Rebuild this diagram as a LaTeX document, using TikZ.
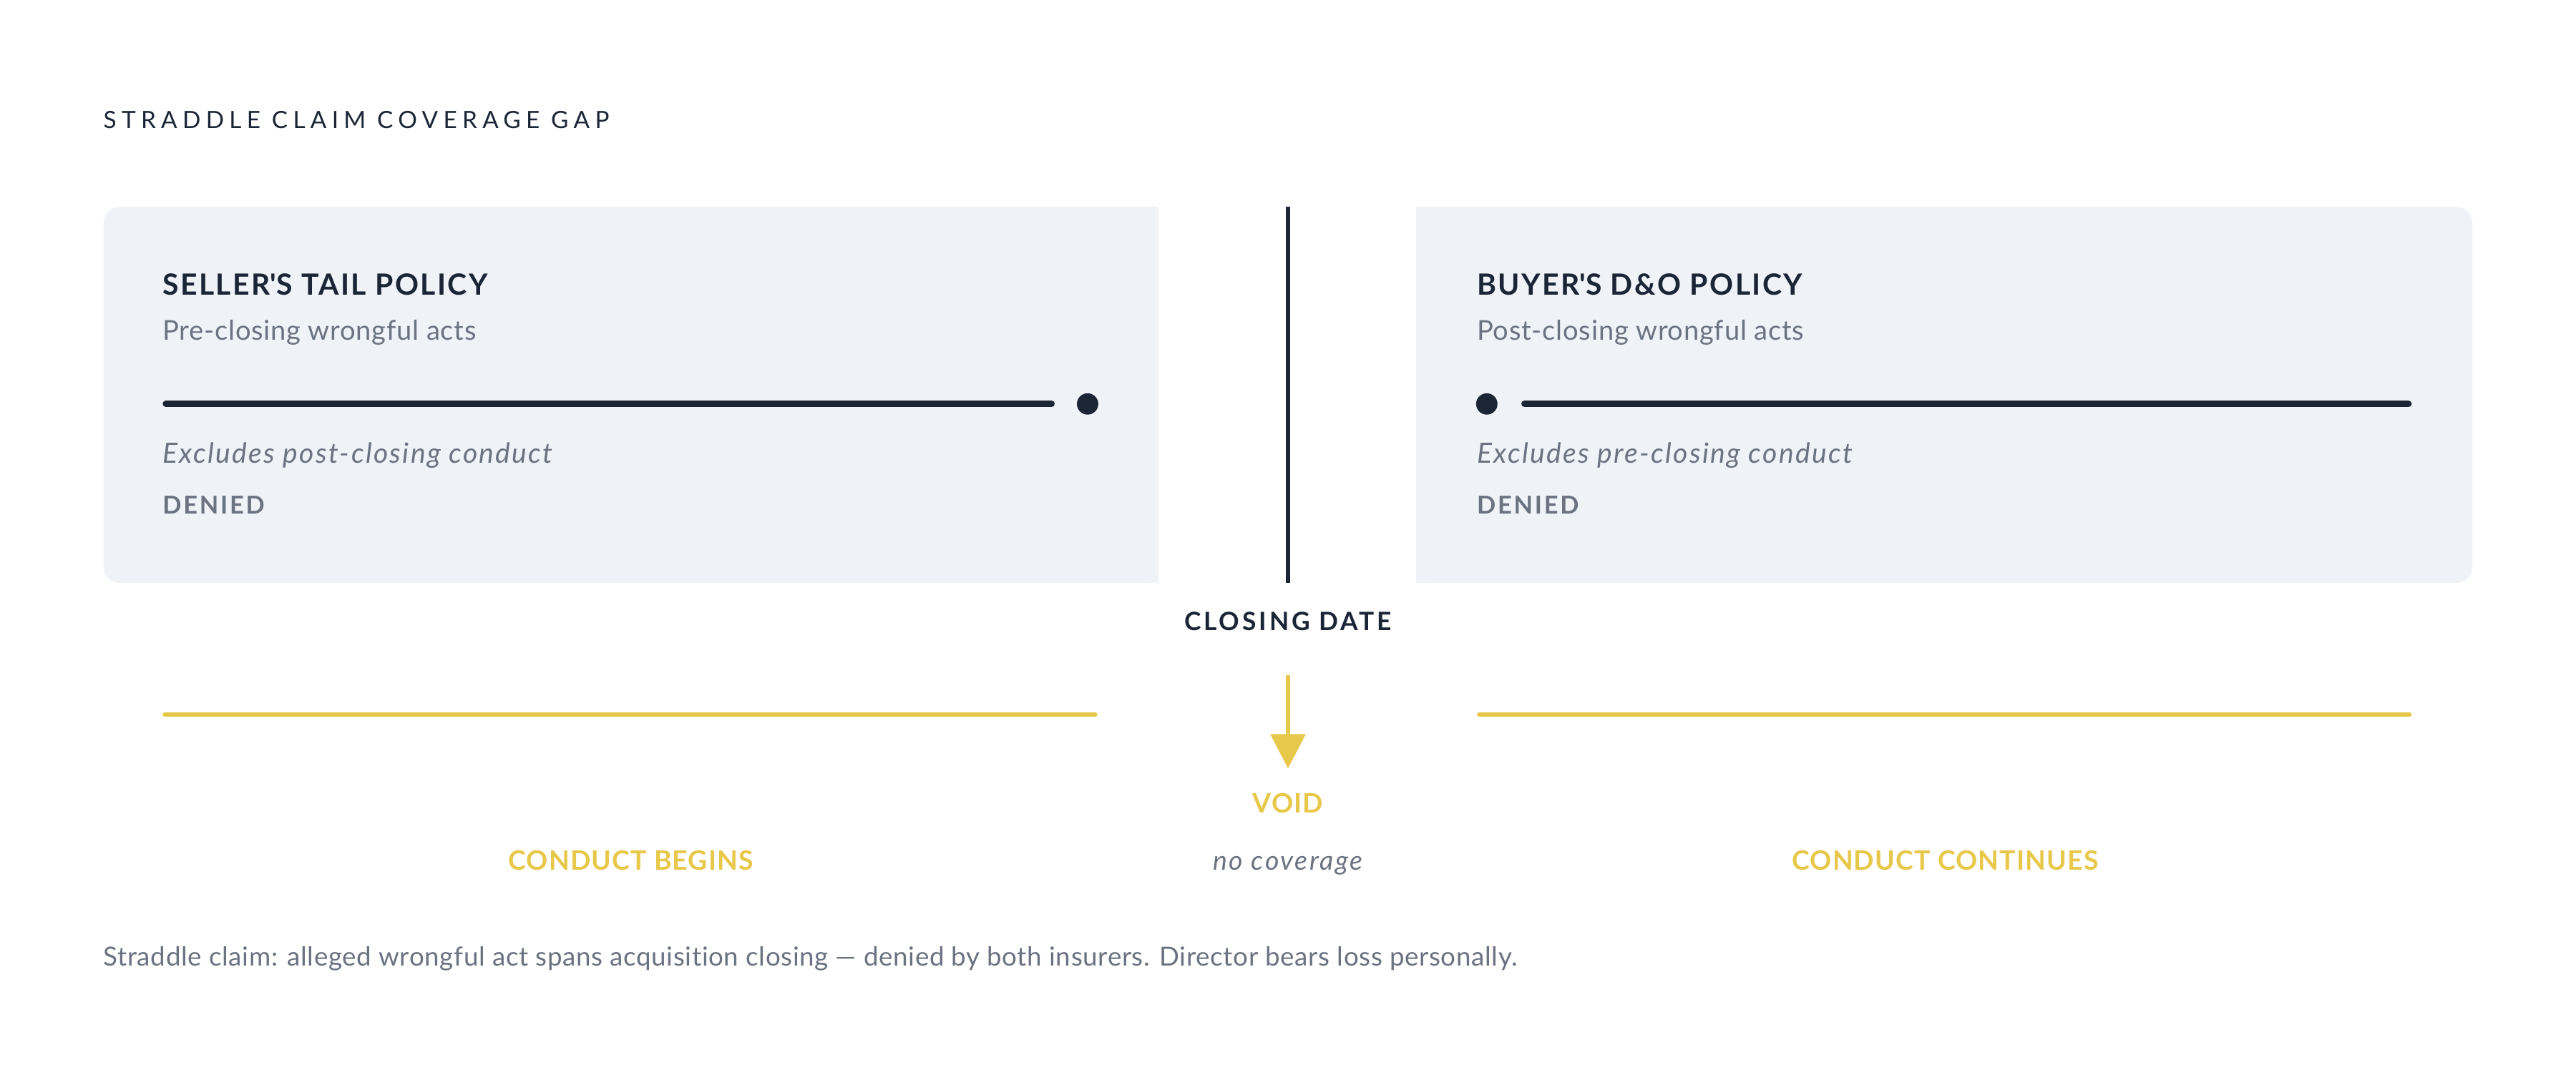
\documentclass[tikz,border=0pt]{standalone}
\usepackage{fontspec}
\setmainfont{Lato}[Ligatures={TeX,NoCommon}]
\usetikzlibrary{arrows.meta}
\definecolor{ink}{HTML}{1B2535}
\definecolor{muted}{HTML}{6B7280}
\definecolor{cardbg}{HTML}{EFF2F7}
\definecolor{gold}{HTML}{E8C84A}
\tikzset{
  x=1pt, y=-1pt,
  txt/.style={inner sep=0pt, outer sep=0pt, anchor=base west},
  ctxt/.style={inner sep=0pt, outer sep=0pt, anchor=base},
  cardtitle/.style={txt, text=ink, font=\fontsize{17.8}{20}\selectfont\bfseries\addfontfeature{LetterSpace=6}},
  cardsub/.style={txt, text=muted, font=\fontsize{16.6}{19}\selectfont\addfontfeature{LetterSpace=2}},
  cardnote/.style={txt, text=muted, font=\fontsize{17}{19}\selectfont\itshape\addfontfeature{LetterSpace=6}},
  denied/.style={txt, text=muted, font=\fontsize{15}{18}\selectfont\bfseries\addfontfeature{LetterSpace=8}},
  goldlbl/.style={ctxt, text=gold, font=\fontsize{16.3}{19}\selectfont\bfseries\addfontfeature{LetterSpace=3}},
  bar/.style={ink, line width=4pt, line cap=round},
  goldbar/.style={gold, line width=2.6pt, line cap=round},
}
\begin{document}
\begin{tikzpicture}
\useasboundingbox[fill=white] (0,0) rectangle (1568,657.3);
% title
\node[txt, text=ink, font=\fontsize{14.5}{17}\selectfont\addfontfeature{LetterSpace=22}] (title) at (63,78) {STRADDLE CLAIM COVERAGE GAP};
% cards
\fill[cardbg, rounded corners=10pt] (63,126) rectangle (705,355);
\fill[cardbg] (650,126) rectangle (705,355);
\fill[cardbg, rounded corners=10pt] (862,126) rectangle (1505,355);
\fill[cardbg] (862,126) rectangle (920,355);
% closing line
\coordinate (ctop) at (784,126);
\coordinate (cbot) at (784,355);
\draw[ink, line width=2.6pt] (ctop) -- (cbot);
% left card
\node[cardtitle] (stitle) at (99,179.5) {SELLER\textquotesingle S TAIL POLICY};
\node[cardsub] (ssub) at (99,207) {Pre-closing wrongful acts};
\coordinate (sl1) at (101,246);
\coordinate (sl2) at (640,246);
\draw[bar] (sl1) -- (sl2);
\node[circle, fill=ink, minimum size=13pt, inner sep=0pt] (sdot) at (662,246) {};
\node[cardnote] (snote) at (99,282) {Excludes post-closing conduct};
\node[denied] (sden) at (99,313) {DENIED};
% right card
\node[cardtitle] (btitle) at (899,179.5) {BUYER\textquotesingle S D\&O POLICY};
\node[cardsub] (bsub) at (899,207) {Post-closing wrongful acts};
\node[circle, fill=ink, minimum size=13pt, inner sep=0pt] (bdot) at (905,246) {};
\coordinate (bl1) at (928,246);
\coordinate (bl2) at (1466,246);
\draw[bar] (bl1) -- (bl2);
\node[cardnote] (bnote) at (899,282) {Excludes pre-closing conduct};
\node[denied] (bden) at (899,313) {DENIED};
% closing date
\node[ctxt, text=ink, font=\fontsize{15.4}{18}\selectfont\bfseries\addfontfeature{LetterSpace=11}] (cdate) at (784,384) {CLOSING DATE};
% gold lines
\coordinate (gl1) at (100.3,435);
\coordinate (gl2) at (666.7,435);
\coordinate (gr1) at (900.3,435);
\coordinate (gr2) at (1466.7,435);
\draw[goldbar] (gl1) -- (gl2);
\draw[goldbar] (gr1) -- (gr2);
% arrow
\coordinate (atop) at (784,411);
\coordinate (abot) at (784,468);
\draw[gold, line width=2.6pt, -{Triangle[width=21pt,length=21pt]}] (atop) -- (abot);
% labels
\node[goldlbl] (void) at (784,495) {VOID};
\node[goldlbl] (cbeg) at (384,530) {CONDUCT BEGINS};
\node[ctxt, text=muted, font=\fontsize{16.3}{18}\selectfont\itshape\addfontfeature{LetterSpace=7}] (nocov) at (784,530) {no coverage};
\node[goldlbl] (ccont) at (1184,530) {CONDUCT CONTINUES};
% footer
\node[txt, text=muted, font=\fontsize{16}{18}\selectfont\addfontfeature{LetterSpace=1.8}] (foot) at (63,588) {Straddle claim: alleged wrongful act spans acquisition closing — denied by both insurers. Director bears loss personally.};
\end{tikzpicture}
\end{document}
